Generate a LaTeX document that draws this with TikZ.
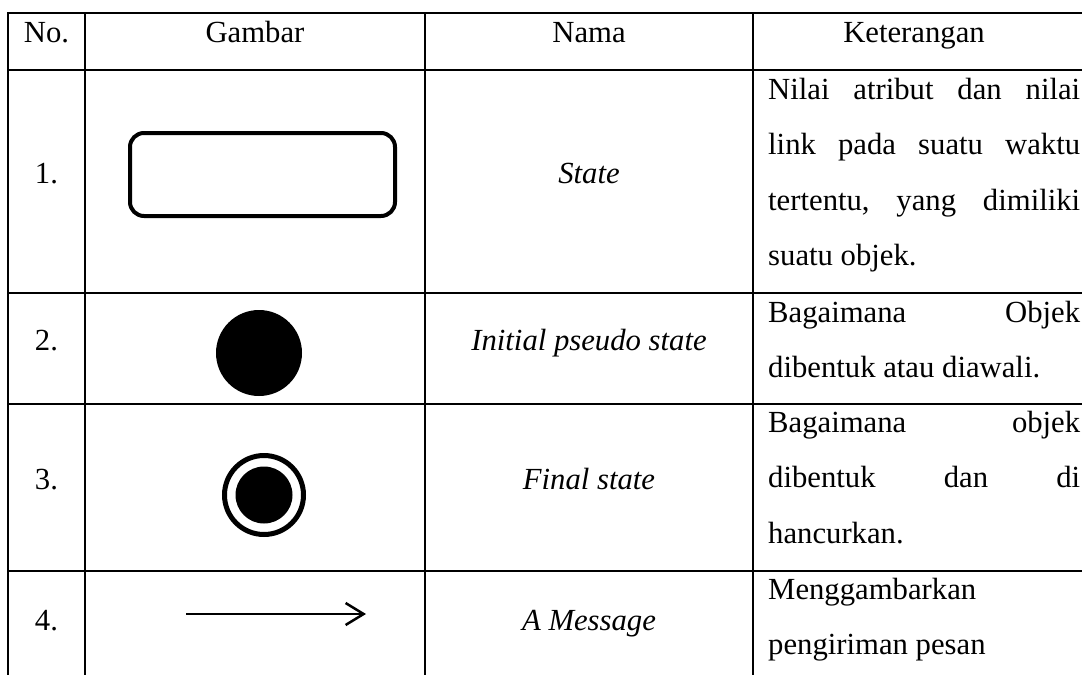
\documentclass[tikz,border=0pt]{standalone}
\usepackage{fontspec}
\setmainfont{Liberation Serif}
\usetikzlibrary{arrows.meta,positioning}

\begin{document}
\begin{tikzpicture}[x=1pt,y=-1pt,font=\fontsize{30.7}{55.6}\selectfont,
					grid line/.style={line width=2.6pt},
					main text/.style={anchor=base,inner sep=0pt},
					name text/.style={main text,font=\fontsize{30.7}{55.6}\selectfont\itshape},
					info text/.style={anchor=base west,inner sep=0pt,text width=312pt,align=justify,
						execute at begin node={\tolerance=10000\hbadness=10000\frenchspacing}}]
					
					\path[fill=white,use as bounding box] (0,0) rectangle (1082,675);
					
					% table
					\draw[grid line] (1082,13) -| (8,675);
					\foreach \y in {70,293,404,571}
						\draw[grid line] (8,\y) -- (1082,\y);
					\foreach \x in {85,425,753}
						\draw[grid line] (\x,13) -- (\x,675);
					
					% header
					\node[main text] (h1) at (46.5,42) {No.};
					\node[main text] (h2) at (255,42) {Gambar};
					\node[main text] (h3) at (589,42) {Nama};
					\node[main text] (h4) at (914,42) {Keterangan};
					
					\node[main text] (n1) at (46.5,183) {1.};
					\node[main text] (n2) at (46.5,350) {2.};
					\node[main text] (n3) at (46.5,489) {3.};
					\node[main text] (n4) at (46.5,630) {4.};
					
					% symbols
					\node[draw,line width=4pt,rounded corners=14pt,minimum width=265pt,
						minimum height=83pt] (state) at (262.5,174.5) {};
					\node[circle,fill,inner sep=0pt,minimum size=86pt] (init) at (259,353) {};
					\node[circle,draw,line width=5pt,inner sep=0pt,minimum size=79pt] (final) at (264,495) {};
					\node[circle,fill,inner sep=0pt,minimum size=57pt] (final dot) at (final) {};
					\coordinate (msg start) at (186,614);
					\coordinate (msg end) at (366,614);
					\draw[line width=2.5pt,-{Straight Barb[length=18pt,width=22pt]}] (msg start) -- (msg end);
					
					\node[name text] (m1) at (589,183) {State};
					\node[name text] (m2) at (589,350) {Initial pseudo state};
					\node[name text] (m3) at (589,489) {Final state};
					\node[name text] (m4) at (589,630) {A Message};
					
					\node[info text] (k1) at (768,99) {Nilai atribut dan nilai\linebreak link pada suatu waktu\linebreak tertentu, yang dimiliki\linebreak suatu objek.};
					\node[info text] (k2) at (768,322) {Bagaimana Objek\linebreak dibentuk atau diawali.};
					\node[info text] (k3) at (768,432) {Bagaimana objek\linebreak dibentuk dan di\linebreak hancurkan.};
					\node[info text] (k4) at (768,599) {Menggambarkan\\ pengiriman pesan};
					
				\end{tikzpicture}
\end{document}
